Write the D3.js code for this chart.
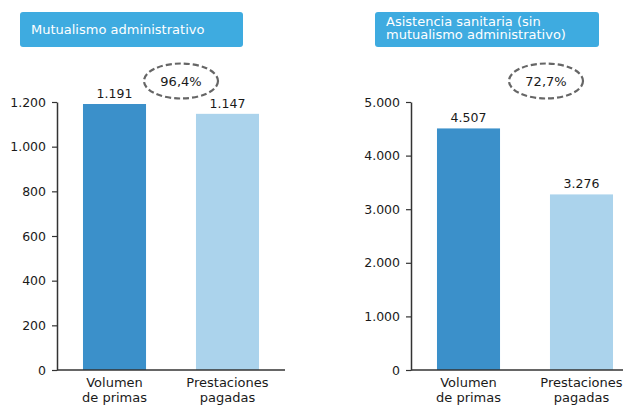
<!DOCTYPE html>
<html>
<head>
<meta charset="utf-8">
<script src="https://cdn.jsdelivr.net/npm/d3@7"></script>
<style>
  body { margin: 0; background: #fff; }
  svg { display: block; font-family: "DejaVu Sans", Verdana, sans-serif; }
</style>
</head>
<body>
<svg id="chart"></svg>
<script>
// Data
var categories = ["Volumen de primas", "Prestaciones pagadas"];
var mutualismoValues = [1191, 1147];
var sanitariaValues = [4507, 3276];
var mutualismoTicks = [0, 200, 400, 600, 800, 1000, 1200];
var sanitariaTicks = [0, 1000, 2000, 3000, 4000, 5000];
var ratios = ["96,4%", "72,7%"];
var titles = [["Mutualismo administrativo"], ["Asistencia sanitaria (sin", "mutualismo administrativo)"]];

var barColors = ["#3b90ca", "#abd3ec"];
var fmt = d3.formatLocale({ decimal: ",", thousands: ".", grouping: [3], currency: ["", "€"] }).format(",d");

var svg = d3.select("#chart").attr("width", 628).attr("height", 405);

// one panel per chart
var panels = [
  { values: mutualismoValues, ticks: mutualismoTicks, max: 1200, title: titles[0], ratio: ratios[0],
    axisX: 57, axisEnd: 285, bandRange: [57, 285], box: [20, 12, 223, 35], ellipse: [181, 81] },
  { values: sanitariaValues, ticks: sanitariaTicks, max: 5000, title: titles[1], ratio: ratios[1],
    axisX: 411, axisEnd: 623, bandRange: [411, 639], box: [375, 12, 224, 35], ellipse: [546, 81] }
];

var plotTop = 102, plotBottom = 370;

panels.forEach(function (p) {
  var g = svg.append("g");

  // title box
  g.append("rect")
    .attr("x", p.box[0]).attr("y", p.box[1])
    .attr("width", p.box[2]).attr("height", p.box[3])
    .attr("rx", 3)
    .attr("fill", "#3eabe0");
  var t = g.append("text")
    .attr("fill", "#fff")
    .style("font-size", "13px");
  var firstY = p.title.length === 1 ? 34 : 26;
  p.title.forEach(function (line, i) {
    t.append("tspan").attr("x", p.box[0] + 11).attr("y", firstY + i * 13).text(line);
  });

  var x = d3.scaleBand()
    .domain(categories)
    .range(p.bandRange)
    .paddingInner(0.442)
    .paddingOuter(0.23);

  var y = d3.scaleLinear()
    .domain([0, p.max])
    .range([plotBottom, plotTop]);

  // bars
  g.selectAll(".bar")
    .data(p.values)
    .enter()
    .append("rect")
    .attr("class", "bar")
    .attr("x", function (d, i) { return x(categories[i]); })
    .attr("y", function (d) { return y(d); })
    .attr("width", x.bandwidth())
    .attr("height", function (d) { return plotBottom - y(d); })
    .attr("fill", function (d, i) { return barColors[i]; });

  // value labels
  g.selectAll(".val")
    .data(p.values)
    .enter()
    .append("text")
    .attr("x", function (d, i) { return x(categories[i]) + x.bandwidth() / 2; })
    .attr("y", function (d) { return y(d) - 6; })
    .attr("text-anchor", "middle")
    .attr("fill", "#1a1a1a")
    .style("font-size", "12.5px")
    .text(function (d) { return fmt(d); });

  // y axis
  var yAxis = g.append("g")
    .attr("transform", "translate(" + p.axisX + ",0)")
    .call(d3.axisLeft(y).tickValues(p.ticks).tickSize(5).tickSizeOuter(0).tickPadding(6).tickFormat(fmt));
  yAxis.select(".domain").attr("stroke", "#333").attr("stroke-width", 1.5);
  yAxis.selectAll(".tick line").attr("stroke", "#333").attr("stroke-width", 1.2);
  yAxis.selectAll(".tick text")
    .attr("fill", "#1a1a1a")
    .style("font-size", "12.5px")
    .style("font-family", "DejaVu Sans, Verdana, sans-serif");

  // baseline
  g.append("line")
    .attr("x1", p.axisX).attr("x2", p.axisEnd)
    .attr("y1", plotBottom).attr("y2", plotBottom)
    .attr("stroke", "#333").attr("stroke-width", 1.5);

  // category labels
  categories.forEach(function (c) {
    var words = c === "Volumen de primas" ? ["Volumen", "de primas"] : ["Prestaciones", "pagadas"];
    var lt = g.append("text")
      .attr("text-anchor", "middle")
      .attr("fill", "#1a1a1a")
      .style("font-size", "13px");
    words.forEach(function (w, i) {
      lt.append("tspan")
        .attr("x", x(c) + x.bandwidth() / 2)
        .attr("y", 387 + i * 15)
        .text(w);
    });
  });

  // dashed ellipse with ratio
  g.append("ellipse")
    .attr("cx", p.ellipse[0]).attr("cy", p.ellipse[1])
    .attr("rx", 37).attr("ry", 17.5)
    .attr("fill", "none")
    .attr("stroke", "#666")
    .attr("stroke-width", 2.2)
    .attr("stroke-dasharray", "6,3");
  g.append("text")
    .attr("x", p.ellipse[0]).attr("y", p.ellipse[1] + 5)
    .attr("text-anchor", "middle")
    .attr("fill", "#1a1a1a")
    .style("font-size", "13px")
    .text(p.ratio);
});
</script>
</body>
</html>
